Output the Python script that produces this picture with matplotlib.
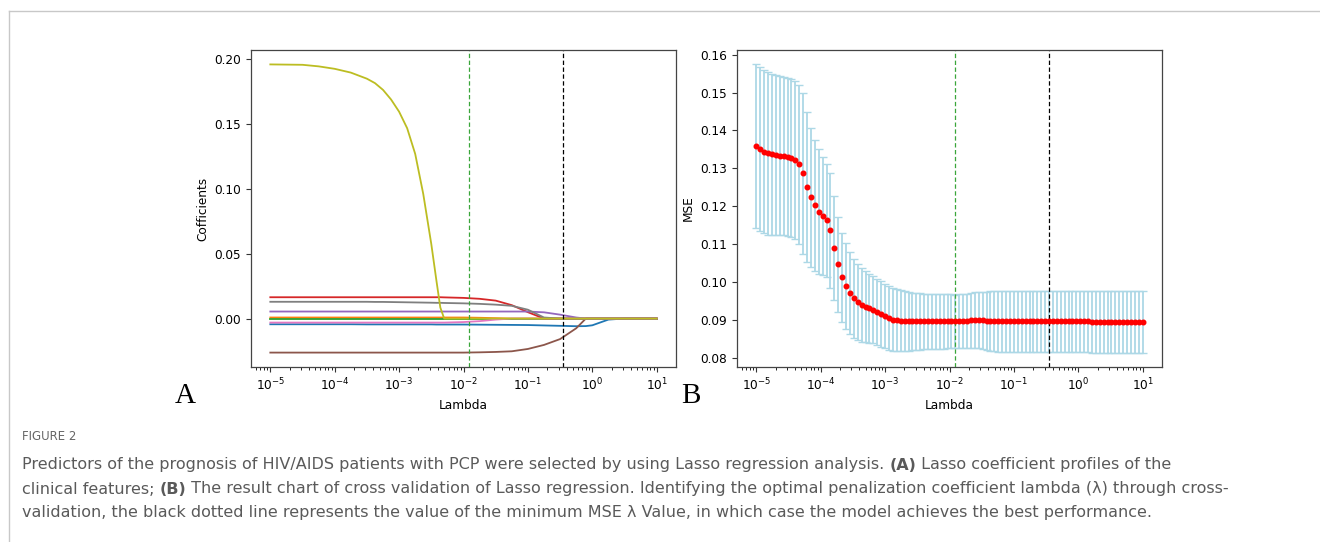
import numpy as np
import matplotlib.pyplot as plt
from matplotlib.lines import Line2D


# DATA:

# lasso coefficient paths, read at these log10(lambda) positions
path_log_lambda = [-5, -4.5, -4.25, -4, -3.75, -3.5, -3.375, -3.25, -3.125, -3,
                   -2.875, -2.75, -2.625, -2.5, -2.42, -2.36, -2.3, -2, -1.75, -1.5,
                   -1.25, -1, -0.75, -0.5, -0.25, -0.1, 0, 0.25, 0.5, 1]

coef_blue = [-0.0044, -0.0044, -0.0044, -0.0044, -0.0044, -0.0045, -0.0045, -0.0045, -0.0045, -0.0045,
             -0.0045, -0.0045, -0.0045, -0.0045, -0.0046, -0.0046, -0.0046, -0.0046, -0.0047, -0.0048,
             -0.0049, -0.0050, -0.0053, -0.0056, -0.0059, -0.0058, -0.0052, -0.0008, 0.0, 0.0]
coef_orange = [0.0008, 0.0008, 0.0008, 0.0008, 0.0008, 0.0008, 0.0008, 0.0008, 0.0008, 0.0008,
               0.0008, 0.0008, 0.0008, 0.0008, 0.0008, 0.0008, 0.0008, 0.0008, 0.0006, 0.0003,
               0.0, 0.0, 0.0, 0.0, 0.0, 0.0, 0.0, 0.0, 0.0, 0.0]
coef_green = [0.0, 0.0, 0.0, 0.0, 0.0, 0.0, 0.0, 0.0, 0.0, 0.0,
              0.0, 0.0, 0.0, 0.0, 0.0, 0.0, 0.0, 0.0, 0.0, 0.0,
              0.0, 0.0, 0.0, 0.0, 0.0, 0.0, 0.0, 0.0, 0.0, 0.0]
coef_red = [0.0164, 0.0164, 0.0164, 0.0164, 0.0164, 0.0164, 0.0164, 0.0164, 0.0164, 0.0164,
            0.0164, 0.0164, 0.0164, 0.0164, 0.0164, 0.0164, 0.0163, 0.0159, 0.0152, 0.0138,
            0.0103, 0.0049, 0.0, 0.0, 0.0, 0.0, 0.0, 0.0, 0.0, 0.0]
coef_purple = [0.0054, 0.0054, 0.0054, 0.0054, 0.0054, 0.0054, 0.0054, 0.0054, 0.0054, 0.0054,
               0.0054, 0.0054, 0.0054, 0.0054, 0.0054, 0.0054, 0.0054, 0.0054, 0.0054, 0.0054,
               0.0054, 0.0054, 0.0048, 0.0030, 0.0008, 0.0, 0.0, 0.0, 0.0, 0.0]
coef_brown = [-0.0262, -0.0262, -0.0262, -0.0262, -0.0262, -0.0262, -0.0262, -0.0262, -0.0262, -0.0262,
              -0.0262, -0.0262, -0.0262, -0.0262, -0.0262, -0.0262, -0.0262, -0.0262, -0.0260, -0.0257,
              -0.0252, -0.0234, -0.0203, -0.0158, -0.0075, 0.0, 0.0, 0.0, 0.0, 0.0]
coef_pink = [-0.0031, -0.0031, -0.0031, -0.0031, -0.0031, -0.0031, -0.0031, -0.0031, -0.0031, -0.0031,
             -0.0031, -0.0031, -0.0031, -0.0031, -0.0031, -0.0031, -0.0031, -0.0027, -0.0020, -0.0008,
             0.0, 0.0, 0.0, 0.0, 0.0, 0.0, 0.0, 0.0, 0.0, 0.0]
coef_gray = [0.0129, 0.0129, 0.0129, 0.0129, 0.0129, 0.0129, 0.0128, 0.0128, 0.0127, 0.0126,
             0.0125, 0.0124, 0.0123, 0.0122, 0.0121, 0.0121, 0.0120, 0.0117, 0.0113, 0.0107,
             0.0098, 0.0068, 0.0008, 0.0, 0.0, 0.0, 0.0, 0.0, 0.0, 0.0]
coef_olive = [0.1956, 0.1953, 0.1941, 0.1922, 0.1893, 0.1846, 0.1812, 0.1760, 0.1686, 0.1592,
              0.1465, 0.1267, 0.0959, 0.0573, 0.0290, 0.0085, 0.0, 0.0, 0.0, 0.0,
              0.0, 0.0, 0.0, 0.0, 0.0, 0.0, 0.0, 0.0, 0.0, 0.0]

coef_paths = [coef_blue, coef_orange, coef_green, coef_red, coef_purple,
              coef_brown, coef_pink, coef_gray, coef_olive]

# cross validation: 100 lambdas on the log grid used by the fit
cv_lambdas = np.logspace(-5, 1, 100)

mse_mean = [0.1358, 0.1350, 0.1344, 0.1340, 0.1337, 0.1336, 0.1334, 0.1333, 0.1331, 0.1328,
            0.1322, 0.1311, 0.1287, 0.1251, 0.1224, 0.1203, 0.1186, 0.1175, 0.1164, 0.1137,
            0.1091, 0.1048, 0.1013, 0.0990, 0.0971, 0.0958, 0.0948, 0.0941, 0.0936, 0.0932,
            0.0928, 0.0923, 0.0917, 0.0911, 0.0906, 0.0902, 0.0901, 0.0899, 0.0898, 0.0897,
            0.0897, 0.0897, 0.0897, 0.0897, 0.0897, 0.0897, 0.0897, 0.0897, 0.0897, 0.0897,
            0.0897, 0.0897, 0.0897, 0.0897, 0.0898, 0.0900, 0.0901, 0.0901, 0.0900, 0.0899,
            0.0898, 0.0897, 0.0897, 0.0897, 0.0897, 0.0897, 0.0897, 0.0897, 0.0897, 0.0897,
            0.0897, 0.0897, 0.0897, 0.0897, 0.0897, 0.0897, 0.0897, 0.0897, 0.0897, 0.0897,
            0.0897, 0.0897, 0.0897, 0.0897, 0.0897, 0.0897, 0.0896, 0.0896, 0.0896, 0.0896,
            0.0896, 0.0896, 0.0896, 0.0896, 0.0896, 0.0896, 0.0896, 0.0896, 0.0896, 0.0896]

mse_err = [0.0216, 0.0216, 0.0215, 0.0214, 0.0213, 0.0211, 0.0210, 0.0209, 0.0208, 0.0208,
           0.0208, 0.0209, 0.0213, 0.0197, 0.0183, 0.0172, 0.0165, 0.0155, 0.0149, 0.0151,
           0.0137, 0.0125, 0.0118, 0.0113, 0.0108, 0.0104, 0.0100, 0.0097, 0.0094, 0.0091,
           0.0089, 0.0087, 0.0086, 0.0085, 0.0084, 0.0083, 0.0082, 0.0081, 0.0079, 0.0077,
           0.0076, 0.0075, 0.0074, 0.0073, 0.0072, 0.0072, 0.0072, 0.0072, 0.0072, 0.0071,
           0.0071, 0.0070, 0.0071, 0.0071, 0.0072, 0.0072, 0.0073, 0.0074, 0.0075, 0.0076,
           0.0078, 0.0079, 0.0080, 0.0080, 0.0080, 0.0080, 0.0080, 0.0080, 0.0080, 0.0080,
           0.0080, 0.0080, 0.0080, 0.0081, 0.0081, 0.0081, 0.0081, 0.0081, 0.0081, 0.0081,
           0.0081, 0.0081, 0.0081, 0.0081, 0.0081, 0.0081, 0.0081, 0.0081, 0.0081, 0.0081,
           0.0081, 0.0081, 0.0081, 0.0081, 0.0081, 0.0081, 0.0081, 0.0081, 0.0081, 0.0081]

lambda_1se = 0.0123   # green dashed line
lambda_min = 0.351    # black dashed line

caption_title = "FIGURE 2"
caption_lines = [
    [("Predictors of the prognosis of HIV/AIDS patients with PCP were selected by using Lasso regression analysis. ", "normal"),
     ("(A)", "bold"), (" Lasso coefficient profiles of the", "normal")],
    [("clinical features; ", "normal"), ("(B)", "bold"),
     (" The result chart of cross validation of Lasso regression. Identifying the optimal penalization coefficient lambda (\u03bb) through cross-", "normal")],
    [("validation, the black dotted line represents the value of the minimum MSE \u03bb Value, in which case the model achieves the best performance.", "normal")],
]


# PLOT:

W, H = 1320, 542
plt.rcParams['font.family'] = ['DejaVu Sans']
fig = plt.figure(figsize=(W / 100, H / 100), dpi=100)

ax1 = fig.add_axes([251 / W, 1 - 367 / H, 425 / W, 317 / H])
ax2 = fig.add_axes([737 / W, 1 - 367 / H, 425 / W, 317 / H])

path_lambdas = 10.0 ** np.array(path_log_lambda)
colors = ['tab:blue', 'tab:orange', 'tab:green', 'tab:red', 'tab:purple',
          'tab:brown', 'tab:pink', 'tab:gray', 'tab:olive']
for coefs, c in zip(coef_paths, colors):
    ax1.plot(path_lambdas, coefs, color=c, linewidth=1.3)
ax1.set_xscale('log')
ax1.set_xlabel('Lambda', fontsize=8.7)
ax1.set_ylabel('Cofficients', fontsize=8.7)

ax2.errorbar(cv_lambdas, mse_mean, yerr=mse_err, fmt='o', color='red', ms=3.3,
             ecolor='lightblue', elinewidth=1.3, capsize=3)
ax2.set_xscale('log')
ax2.set_xlabel('Lambda', fontsize=8.7)
ax2.set_ylabel('MSE', fontsize=8.7)

for ax in (ax1, ax2):
    ax.axvline(lambda_1se, color='#3aa63a', linestyle=(0, (3.5, 2)), linewidth=0.9)
    ax.axvline(lambda_min, color='black', linestyle=(0, (3.5, 2)), linewidth=0.9)
    ax.tick_params(labelsize=8.7, color='#333333', width=0.8, length=3.5)
    ax.tick_params(which='minor', length=2, width=0.6)
    for sp in ax.spines.values():
        sp.set_color('#444444')
        sp.set_linewidth(0.9)

fig.text(185 / W, 1 - 396 / H, 'A', fontsize=21, family='Liberation Serif', ha='center', va='center')
fig.text(691 / W, 1 - 396 / H, 'B', fontsize=21, family='Liberation Serif', ha='center', va='center')

# light frame of the journal page
fig.add_artist(Line2D([9 / W, 1], [1 - 11 / H, 1 - 11 / H], color='#c8c8c8', linewidth=1))
fig.add_artist(Line2D([9 / W, 9 / W], [0, 1 - 11 / H], color='#c8c8c8', linewidth=1))

# caption
fig.text(22 / W, 1 - 437 / H, caption_title, fontsize=8.5, color='#666666', va='center')

renderer = fig.canvas.get_renderer()
line_y = [465, 489, 512]
for runs, yy in zip(caption_lines, line_y):
    x = 22
    for s, w in runs:
        t = fig.text(x / W, 1 - yy / H, s, fontsize=11.5, color='#5a5a5a',
                     fontweight=w, va='center')
        x += t.get_window_extent(renderer).width

fig.savefig('out.png', dpi=100)
